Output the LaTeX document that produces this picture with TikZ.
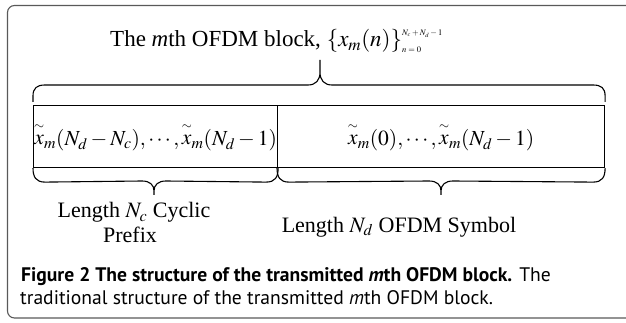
\documentclass[tikz,border=0pt]{standalone}
\usepackage{mathptmx}
\usepackage{fontspec}
\setmainfont{Liberation Serif}
\newfontfamily\capfont{PT Sans}
\usetikzlibrary{calc}
\newcommand{\xt}{\mathord{\stackrel{\raisebox{2pt}{$\scriptscriptstyle\sim$}}{x}}}
\newcommand{\tinymath}[1]{\hbox{\fontsize{8.5}{9}\selectfont$#1$}}
\begin{document}
\begin{tikzpicture}[x=1pt,y=-1pt,
  frame/.style={draw=black!65, line width=1.1pt, rounded corners=7pt},
  cell/.style={draw, line width=1.1pt, minimum height=62pt, inner sep=0pt,
    anchor=north west, font=\fontsize{21.5}{25}\selectfont},
  brace/.style={draw, line width=1.1pt},
  lbl/.style={font=\fontsize{22}{24}\selectfont, inner sep=0pt, anchor=base},
  captext/.style={font=\capfont\fontsize{19.6}{22.5}\selectfont, inner sep=0pt, anchor=base west}]
\useasboundingbox (0,0) rectangle (626,323);

% outer frame, open to the right
\draw[frame] (640,5.5) -- (7.5,5.5) -- (7.5,318) -- (640,318);

% title
\node[lbl, anchor=base west, font=\fontsize{23}{25}\selectfont] (title) at (110,47)
  {The \textit{m}th OFDM block, $\{x_m(n)\}_{\tinymath{n=0}}^{\raisebox{3pt}{\tinymath{N_c+N_d-1}}}$};

% the two parts of the block
\node[cell, minimum width=244pt] (cp) at (33,105)
  {$\xt_m(N_d-N_c),\cdots,\xt_m(N_d-1)$};
\node[cell, minimum width=327pt] (sym) at (277,105)
  {$\xt_m(0),\cdots,\xt_m(N_d-1)$};

% brace tips
\coordinate (ttip) at (320,60);
\coordinate (ltip) at (154,195);
\coordinate (rtip) at (441,195);

% brace over the whole block
\path[brace] ($(cp.north west)+(0,-3)$) -- ++(0,-6)
  .. controls ++(0,-8) and ++(-8,0) .. ($(cp.north west)+(12,-20)$)
  -- ($(ttip)+(-12,25)$) .. controls ++(8,0) and ++(0,8) .. ($(ttip)+(0,12)$) -- (ttip)
  -- ($(ttip)+(0,12)$) .. controls ++(0,8) and ++(-8,0) .. ($(ttip)+(12,25)$)
  -- ($(sym.north east)+(-12,-20)$) .. controls ++(8,0) and ++(0,-8) .. ($(sym.north east)+(0,-9)$)
  -- ++(0,6);

% brace under the cyclic prefix
\path[brace] (cp.south west) .. controls ++(0,9) and ++(-9,0) .. ($(cp.south west)+(12,14)$)
  -- ($(ltip)+(-12,-14)$) .. controls ++(8,0) and ++(0,-6) .. ($(ltip)+(0,-4)$) -- (ltip)
  -- ($(ltip)+(0,-4)$) .. controls ++(0,-6) and ++(-8,0) .. ($(ltip)+(12,-14)$)
  -- ($(cp.south east)+(-12,14)$) .. controls ++(9,0) and ++(0,9) .. (cp.south east);

% brace under the OFDM symbol
\path[brace] (sym.south west) .. controls ++(0,9) and ++(-9,0) .. ($(sym.south west)+(12,14)$)
  -- ($(rtip)+(-12,-14)$) .. controls ++(8,0) and ++(0,-6) .. ($(rtip)+(0,-4)$) -- (rtip)
  -- ($(rtip)+(0,-4)$) .. controls ++(0,-6) and ++(-8,0) .. ($(rtip)+(12,-14)$)
  -- ($(sym.south east)+(-12,14)$) .. controls ++(9,0) and ++(0,9) .. (sym.south east);

% labels
\node[lbl] (cplbl) at (134,218) {Length $N_c$ Cyclic};
\node[lbl] (cplbl2) at (130,242) {Prefix};
\node[lbl] (symlbl) at (399,232) {Length $N_d$ OFDM Symbol};

% caption
\node[captext] (caption) at (21,281)
  {\textbf{Figure 2 The structure of the transmitted \textit{m}th OFDM block.} The};
\node[captext] (caption2) at (20,304)
  {traditional structure of the transmitted \textit{m}th OFDM block.};
\end{tikzpicture}
\end{document}
